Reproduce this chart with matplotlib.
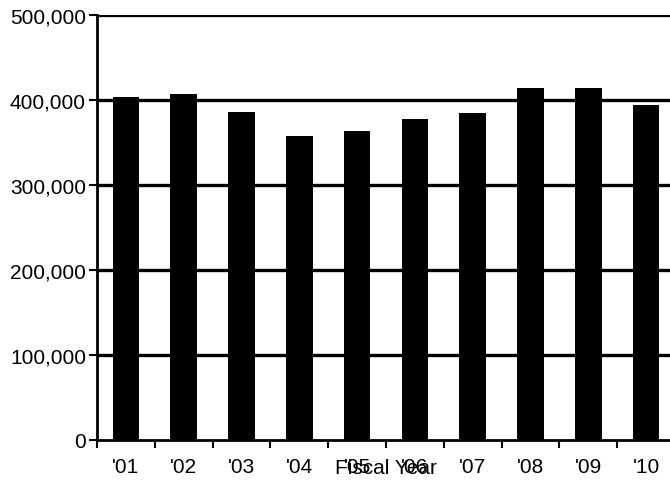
import matplotlib
matplotlib.use("Agg")
import matplotlib.pyplot as plt
from matplotlib.ticker import FuncFormatter, FixedLocator

years = ["'01", "'02", "'03", "'04", "'05", "'06", "'07", "'08", "'09", "'10"]
values = [403500, 407000, 386000, 357600, 363500, 377600, 384700, 414000, 414000, 394000]
yticks = [0, 100000, 200000, 300000, 400000, 500000]

plt.rcParams['font.family'] = ['Liberation Sans', 'DejaVu Sans']

fig = plt.figure(figsize=(6.70, 4.81), dpi=100)
W, H = 670, 481
ax = fig.add_axes([97 / W, 40 / H, 578 / W, 425 / H])

x = list(range(len(years)))
ax.bar(x, values, width=0.46, color='black', zorder=3)

ax.set_xlim(-0.5, len(years) - 0.5)
ax.set_ylim(0, 500000)
ax.set_yticks(yticks)
ax.yaxis.set_major_formatter(FuncFormatter(lambda v, p: f"{int(v):,}"))
for yv in yticks[1:]:
    ax.axhline(yv, color='black', lw=2.4, zorder=2)

ax.set_xticks(x)
ax.set_xticklabels(years)
ax.xaxis.set_minor_locator(FixedLocator([i - 0.5 for i in range(len(years) + 1)]))
ax.tick_params(axis='x', which='major', length=0, pad=12, labelsize=15)
ax.tick_params(axis='x', which='minor', length=6, width=1.5, color='black')
ax.tick_params(axis='y', length=6, width=1.5, pad=2, labelsize=15)

for s in ['top', 'right']:
    ax.spines[s].set_visible(False)
ax.spines['left'].set_linewidth(2)
ax.spines['bottom'].set_linewidth(2)

ax.text(0.5, -28 / 425, "Fiscal Year", transform=ax.transAxes, ha='center', va='center', fontsize=15)

fig.savefig("out.png", dpi=100)
